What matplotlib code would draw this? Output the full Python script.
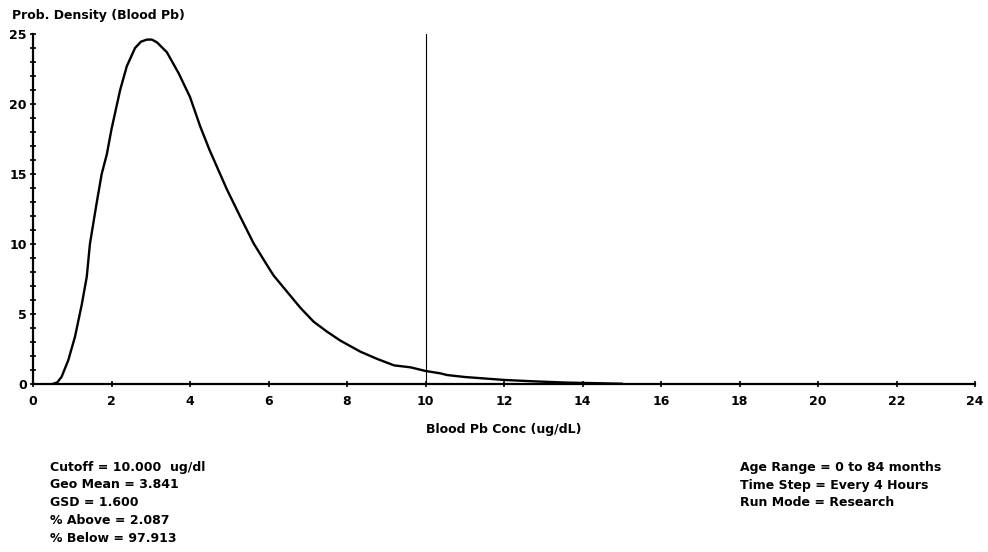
import matplotlib.pyplot as plt
from matplotlib.ticker import MultipleLocator

# curve
conc = [0.50, 0.62, 0.73, 0.90, 1.07, 1.24, 1.37, 1.45, 1.62, 1.75, 1.88, 2.00,
        2.22, 2.39, 2.60, 2.75, 2.90, 3.03, 3.16, 3.41, 3.71, 4.00, 4.26, 4.50,
        4.94, 5.28, 5.62, 5.96, 6.13, 6.47, 6.81, 7.15, 7.49, 7.83, 8.34, 8.77,
        9.20, 9.62, 10.00, 10.38, 10.55, 11.00, 12.00, 12.76, 13.60, 14.30, 15.00]
density = [0.00, 0.12, 0.52, 1.71, 3.38, 5.64, 7.66, 10.0, 12.9, 15.0, 16.4, 18.2,
           21.0, 22.7, 24.0, 24.45, 24.6, 24.6, 24.4, 23.7, 22.2, 20.5, 18.4, 16.7,
           13.9, 11.95, 10.05, 8.5, 7.75, 6.6, 5.45, 4.45, 3.74, 3.1, 2.31, 1.79,
           1.33, 1.19, 0.93, 0.76, 0.64, 0.50, 0.29, 0.19, 0.10, 0.06, 0.02]
cutoff = 10.0

left_notes = ["Cutoff = 10.000  ug/dl", "Geo Mean = 3.841", "GSD = 1.600",
              "% Above = 2.087", "% Below = 97.913"]
right_notes = ["Age Range = 0 to 84 months", "Time Step = Every 4 Hours",
               "Run Mode = Research"]

plt.rcParams['font.family'] = ['DejaVu Sans']
plt.rcParams['font.weight'] = 'bold'
fs = 9

fig = plt.figure(figsize=(9.88, 5.52), dpi=100)
ax = fig.add_axes([33 / 988, 1 - 384 / 552, 942 / 988, 350 / 552])

ax.plot(conc, density, color='black', lw=1.7)
ax.plot([cutoff, cutoff], [0, 25], color='black', lw=0.8)

ax.set_xlim(0, 24)
ax.set_ylim(0, 25)
ax.xaxis.set_major_locator(MultipleLocator(2))
ax.yaxis.set_major_locator(MultipleLocator(5))
ax.yaxis.set_minor_locator(MultipleLocator(1))
for s in ['top', 'right']:
    ax.spines[s].set_visible(False)
for s in ['left', 'bottom']:
    ax.spines[s].set_linewidth(1.6)
    ax.spines[s].set_clip_on(False)
ax.tick_params(axis='y', which='both', direction='inout', length=5, width=1.2,
               labelsize=fs, pad=2)
ax.tick_params(axis='x', which='major', direction='inout', length=4, width=1.2,
               labelsize=fs, pad=6)
for lab in ax.get_xticklabels() + ax.get_yticklabels():
    lab.set_fontweight('bold')

fig.text(12 / 988, 1 - 16 / 552, "Prob. Density (Blood Pb)", fontsize=fs,
         fontweight='bold', va='center', ha='left')
fig.text(504 / 988, 1 - 430 / 552, "Blood Pb Conc (ug/dL)", fontsize=fs,
         fontweight='bold', va='center', ha='center')

for i, t in enumerate(left_notes):
    fig.text(50 / 988, 1 - (467 + 18 * i) / 552, t, fontsize=fs,
             fontweight='bold', va='center', ha='left')
for i, t in enumerate(right_notes):
    fig.text(740 / 988, 1 - (467 + 18 * i) / 552, t, fontsize=fs,
             fontweight='bold', va='center', ha='left')

fig.savefig('out.png', dpi=100)
